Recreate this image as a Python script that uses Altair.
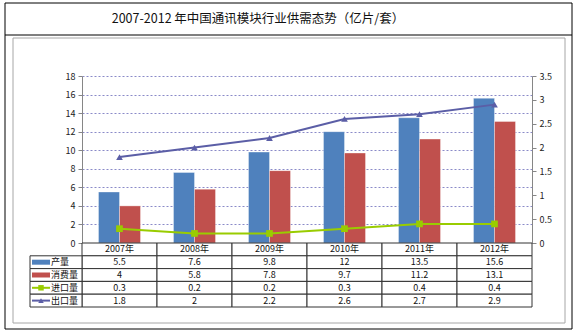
import altair as alt
import pandas as pd

years = ["2007年", "2008年", "2009年", "2010年", "2011年", "2012年"]
series = ["产量", "消费量", "进口量", "出口量"]
production = [5.5, 7.6, 9.8, 12, 13.5, 15.6]
consumption = [4, 5.8, 7.8, 9.7, 11.2, 13.1]
imports = [0.3, 0.2, 0.2, 0.3, 0.4, 0.4]
exports = [1.8, 2, 2.2, 2.6, 2.7, 2.9]
left_ticks = [0, 2, 4, 6, 8, 10, 12, 14, 16, 18]
right_ticks = [0, 0.5, 1, 1.5, 2, 2.5, 3, 3.5]
header_row = "年份"
title_text = "2007-2012 年中国通讯模块行业供需态势（亿片/套）"

colors = ["#4F81BD", "#C0504D", "#99CC00", "#5B5EA6"]
FONT = "Noto Sans CJK SC"

values_by_series = {
    "产量": production,
    "消费量": consumption,
    "进口量": imports,
    "出口量": exports,
}

bar_df = pd.DataFrame(
    [{"year": y, "series": s, "value": v}
     for s in series[:2] for y, v in zip(years, values_by_series[s])]
)
line_df = pd.DataFrame(
    [{"year": y, "series": s, "value": v}
     for s in series[2:] for y, v in zip(years, values_by_series[s])]
)
table_rows = [{"row": header_row, "year": y, "label": y} for y in years]
for s in series:
    for y, v in zip(years, values_by_series[s]):
        table_rows.append({"row": s, "year": y, "label": str(v)})
table_df = pd.DataFrame(table_rows)
legend_df = pd.DataFrame({"row": series})

x_scale = alt.Scale(domain=years, type="band", paddingInner=0, paddingOuter=0)
color_scale = alt.Scale(domain=series, range=colors)
shape_scale = alt.Scale(domain=series[2:], range=["square", "triangle-up"])
row_scale = alt.Scale(domain=[header_row] + series, range=[167, 231],
                      paddingInner=0, paddingOuter=0)

X = alt.X("year:N", scale=x_scale, axis=None, sort=years)

# ---- bars (left axis)
bars = alt.Chart(bar_df).mark_bar(strokeWidth=1, strokeOpacity=0.35, stroke="white").encode(
    x=X,
    xOffset=alt.XOffset("series:N", sort=series[:2],
                        scale=alt.Scale(domain=series[:2], paddingInner=0, paddingOuter=0.7857)),
    y=alt.Y("value:Q", scale=alt.Scale(domain=[0, 18], nice=False),
            axis=alt.Axis(orient="left", values=left_ticks, grid=True, gridDash=[2, 2],
                          gridColor="#8A8AC8", gridWidth=1, domainColor="#868686",
                          tickColor="#868686", tickSize=4, labelFontSize=9,
                          labelFont=FONT, labelColor="#222", labelPadding=3, title=None)),
    color=alt.Color("series:N", scale=color_scale, legend=None),
)

# ---- lines (right axis)
line_y = alt.Y("value:Q", scale=alt.Scale(domain=[0, 3.5], nice=False),
               axis=alt.Axis(orient="right", values=right_ticks, grid=False, format=".1~f",
                             domainColor="#868686", tickColor="#868686", tickSize=4,
                             labelFontSize=9, labelFont=FONT, labelColor="#222",
                             labelPadding=3, title=None))
lines = alt.Chart(line_df).mark_line(strokeWidth=2).encode(
    x=X, y=line_y,
    color=alt.Color("series:N", scale=color_scale, legend=None),
    detail="series:N",
)
points = alt.Chart(line_df).mark_point(filled=True, opacity=1, size=45).encode(
    x=X, y=line_y,
    color=alt.Color("series:N", scale=color_scale, legend=None),
    shape=alt.Shape("series:N", scale=shape_scale, legend=None),
)
line_layer = alt.layer(lines, points)

# ---- data table
RY = alt.Y("row:N", scale=row_scale, axis=None, sort=[header_row] + series)
cells = alt.Chart(table_df).mark_rect(fill="white", stroke="#333333", strokeWidth=1).encode(
    x=X, y=RY)
cell_text = alt.Chart(table_df).mark_text(font=FONT, fontSize=9, color="#111").encode(
    x=X, y=RY, text="label:N")
leg_cells = alt.Chart(legend_df).mark_rect(fill="white", stroke="#333333", strokeWidth=1).encode(
    x=alt.value(-52), x2=alt.value(0), y=RY)
leg_bars = alt.Chart(legend_df).transform_filter(
    alt.FieldOneOfPredicate(field="row", oneOf=series[:2])
).mark_rule(strokeWidth=5).encode(
    x=alt.value(-50), x2=alt.value(-32), y=RY,
    color=alt.Color("row:N", scale=color_scale, legend=None))
leg_lines = alt.Chart(legend_df).transform_filter(
    alt.FieldOneOfPredicate(field="row", oneOf=series[2:])
).mark_rule(strokeWidth=2).encode(
    x=alt.value(-50), x2=alt.value(-32), y=RY,
    color=alt.Color("row:N", scale=color_scale, legend=None))
leg_pts = alt.Chart(legend_df).transform_filter(
    alt.FieldOneOfPredicate(field="row", oneOf=series[2:])
).mark_point(filled=True, opacity=1, size=30).encode(
    x=alt.value(-41), y=RY,
    color=alt.Color("row:N", scale=color_scale, legend=None),
    shape=alt.Shape("row:N", scale=shape_scale, legend=None))
leg_text = alt.Chart(legend_df).mark_text(font=FONT, fontSize=9, color="#111", align="left").encode(
    x=alt.value(-31), y=RY, text="row:N")
table_layer = alt.layer(cells, cell_text, leg_cells, leg_bars, leg_lines, leg_pts, leg_text)

# ---- frames and title
one = pd.DataFrame({"a": [0]})
outer = alt.Chart(one).mark_rect(fillOpacity=0, stroke="black", strokeWidth=1).encode(
    x=alt.value(-77), x2=alt.value(490), y=alt.value(-73), y2=alt.value(253))
sep = alt.Chart(one).mark_rule(color="black", strokeWidth=1).encode(
    x=alt.value(-77), x2=alt.value(490), y=alt.value(-41))
inner = alt.Chart(one).mark_rect(fillOpacity=0, stroke="#A6A6A6", strokeWidth=1).encode(
    x=alt.value(-69), x2=alt.value(483), y=alt.value(-38), y2=alt.value(247))
title = alt.Chart(pd.DataFrame({"t": [title_text]})).mark_text(
    font=FONT, fontSize=12.5, color="#111", align="center", baseline="middle").encode(
    x=alt.value(176), y=alt.value(-57), text="t:N")
deco = alt.layer(outer, sep, inner, title)

chart = alt.layer(deco, bars, line_layer, table_layer).resolve_scale(
    y="independent"
).properties(
    width=450, height=167,
    autosize=alt.AutoSizeParams(type="none"),
    padding={"left": 82, "top": 76, "right": 47, "bottom": 87},
    background="white",
).configure_view(stroke=None)

chart.save("out.html", embed_options={"renderer": "svg", "actions": False})
